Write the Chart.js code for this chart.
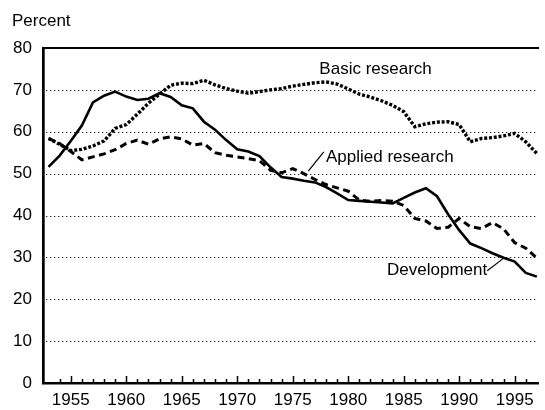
<!DOCTYPE html>
<html>
<head>
<meta charset="utf-8">
<script src="https://cdn.jsdelivr.net/npm/chart.js@4/dist/chart.umd.min.js"></script>
<style>
  html, body { margin: 0; padding: 0; background: #fff; }
  #wrap { width: 545px; height: 410px; }
</style>
</head>
<body>
<div id="wrap"><canvas id="chart" width="545" height="410"></canvas></div>
<script>
// ── Data ─────────────────────────────────────────────────────────────────────
const years = [1953, 1954, 1955, 1956, 1957, 1958, 1959, 1960, 1961, 1962,
               1963, 1964, 1965, 1966, 1967, 1968, 1969, 1970, 1971, 1972,
               1973, 1974, 1975, 1976, 1977, 1978, 1979, 1980, 1981, 1982,
               1983, 1984, 1985, 1986, 1987, 1988, 1989, 1990, 1991, 1992,
               1993, 1994, 1995, 1996, 1997];

const basicResearch = [58.4, 57.0, 55.5, 55.8, 56.6, 57.8, 60.8, 61.7, 64.2, 66.8,
                       69.0, 71.1, 71.6, 71.5, 72.3, 71.2, 70.3, 69.7, 69.2, 69.6,
                       70.0, 70.3, 70.9, 71.3, 71.7, 71.9, 71.4, 70.2, 69.0, 68.3,
                       67.4, 66.3, 64.8, 61.2, 61.9, 62.3, 62.4, 61.7, 57.6, 58.4,
                       58.6, 59.0, 59.6, 57.6, 54.8];

const appliedResearch = [58.4, 57.2, 55.3, 53.3, 54.0, 54.7, 55.7, 57.2, 58.0, 57.0,
                         58.3, 58.8, 58.3, 56.8, 57.2, 55.0, 54.4, 54.0, 53.6, 53.1,
                         50.8, 50.2, 51.2, 50.0, 48.6, 47.4, 46.6, 45.8, 43.7, 43.4,
                         43.6, 43.4, 42.4, 39.3, 38.7, 36.9, 37.2, 39.3, 37.3, 36.9,
                         38.3, 36.8, 33.5, 32.2, 29.8];

const development = [51.6, 54.3, 57.8, 61.5, 67.0, 68.6, 69.6, 68.4, 67.6, 67.9,
                     69.2, 68.3, 66.3, 65.6, 62.4, 60.5, 58.0, 55.8, 55.3, 54.2,
                     51.5, 49.2, 48.8, 48.3, 47.9, 46.8, 45.3, 43.7, 43.5, 43.3,
                     43.1, 42.9, 44.2, 45.5, 46.5, 44.6, 40.3, 36.5, 33.3, 32.2,
                     31.0, 29.9, 29.0, 26.3, 25.4];

const yTicks = [0, 10, 20, 30, 40, 50, 60, 70, 80];
const xLabelStep = 5;

const FONT = '"Liberation Sans", Arial, Helvetica, sans-serif';

function toPoints(vals) {
  return years.map((yr, i) => ({ x: yr, y: vals[i] }));
}

// ── Dotted gridlines, inward tick marks, labels on the plot ──────────────────
const decorations = {
  id: "decorations",
  beforeDatasetsDraw(chart) {
    const { ctx, chartArea } = chart;
    const ys = chart.scales.y;
    ctx.save();
    ctx.fillStyle = "#222";
    yTicks.forEach(v => {
      if (v === 0 || v === 80) return;
      const py = Math.round(ys.getPixelForValue(v));
      for (let px = chartArea.left + 3; px < chartArea.right; px += 4) {
        ctx.fillRect(px, py, 1.3, 1);
      }
    });
    ctx.restore();
  },
  afterDraw(chart) {
    const { ctx, chartArea } = chart;
    const xs = chart.scales.x, ys = chart.scales.y;
    ctx.save();

    // tick marks pointing up into the plot
    ctx.strokeStyle = "#000";
    ctx.lineWidth = 1.5;
    xs.ticks.forEach(t => {
      if (!Number.isInteger(t.value)) return;
      const px = Math.round(xs.getPixelForValue(t.value)) + 0.5;
      const len = t.value % xLabelStep === 0 ? 7 : 4;
      ctx.beginPath();
      ctx.moveTo(px, chartArea.bottom);
      ctx.lineTo(px, chartArea.bottom - len);
      ctx.stroke();
    });

    // axis unit
    ctx.fillStyle = "#000";
    ctx.font = `17px ${FONT}`;
    ctx.textBaseline = "middle";
    ctx.textAlign = "left";
    ctx.fillText("Percent", 12, 21);

    // series labels
    ctx.fillText("Basic research", xs.getPixelForValue(1977.4), ys.getPixelForValue(74.8));
    ctx.fillText("Applied research", xs.getPixelForValue(1978.0), ys.getPixelForValue(54.0));
    const devX = xs.getPixelForValue(1983.5), devY = ys.getPixelForValue(26.8);
    ctx.fillText("Development", devX, devY);

    // leader lines
    ctx.lineWidth = 1.2;
    ctx.beginPath();
    ctx.moveTo(xs.getPixelForValue(1977.8), ys.getPixelForValue(55.2));
    ctx.lineTo(xs.getPixelForValue(1976.4), ys.getPixelForValue(50.6));
    ctx.stroke();
    const devEnd = devX + ctx.measureText("Development").width;
    ctx.beginPath();
    ctx.moveTo(devEnd, devY);
    ctx.lineTo(xs.getPixelForValue(1994.1), ys.getPixelForValue(30.0));
    ctx.stroke();

    ctx.restore();
  }
};

new Chart(document.getElementById("chart"), {
  type: "line",
  data: {
    datasets: [
      {
        label: "Basic research",
        data: toPoints(basicResearch),
        borderColor: "#000",
        borderWidth: 3.4,
        borderDash: [3, 1.8],
        pointRadius: 0,
        tension: 0,
      },
      {
        label: "Applied research",
        data: toPoints(appliedResearch),
        borderColor: "#000",
        borderWidth: 3,
        borderDash: [7, 4.5],
        pointRadius: 0,
        tension: 0,
      },
      {
        label: "Development",
        data: toPoints(development),
        borderColor: "#000",
        borderWidth: 2.6,
        pointRadius: 0,
        tension: 0,
      },
    ],
  },
  options: {
    responsive: false,
    animation: false,
    devicePixelRatio: 1,
    layout: { padding: { top: 48, right: 0, bottom: 0, left: 0 } },
    scales: {
      x: {
        type: "linear",
        position: "bottom",
        min: 1952.5,
        max: 1997.1,
        afterFit: s => { s.height = 27; },
        grid: { drawOnChartArea: false, drawTicks: false },
        border: { color: "#000", width: 2.5 },
        ticks: {
          stepSize: 1,
          autoSkip: false,
          maxRotation: 0,
          padding: 7,
          color: "#000",
          font: { family: FONT, size: 17 },
          callback: v => (Number.isInteger(v) && v % xLabelStep === 0 ? String(v) : ""),
        },
      },
      xTop: {
        type: "linear",
        position: "top",
        min: 1952.5,
        max: 1997.1,
        afterFit: s => { s.height = 0; },
        grid: { drawOnChartArea: false, drawTicks: false },
        border: { color: "#000", width: 2 },
        ticks: { display: false },
      },
      y: {
        min: 0,
        max: 80,
        afterFit: s => { s.width = 43; },
        afterBuildTicks: s => { s.ticks = yTicks.map(v => ({ value: v })); },
        grid: { drawOnChartArea: false, drawTicks: false },
        border: { color: "#000", width: 2.7 },
        ticks: {
          padding: 11,
          color: "#000",
          font: { family: FONT, size: 17 },
        },
      },
    },
    plugins: {
      legend: { display: false },
      tooltip: { enabled: false },
    },
  },
  plugins: [decorations],
});
</script>
</body>
</html>
